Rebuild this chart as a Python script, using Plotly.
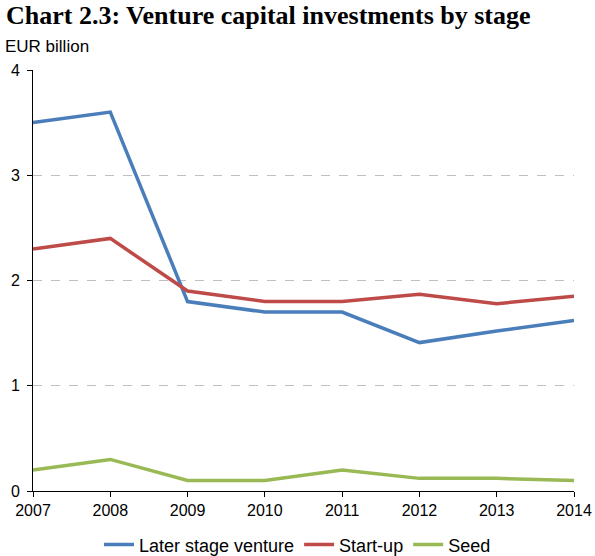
import plotly.graph_objects as go

years = [2007, 2008, 2009, 2010, 2011, 2012, 2013, 2014]
later_stage = [3.50, 3.60, 1.80, 1.70, 1.70, 1.41, 1.52, 1.62]
start_up = [2.30, 2.40, 1.90, 1.80, 1.80, 1.87, 1.78, 1.85]
seed = [0.20, 0.30, 0.10, 0.10, 0.20, 0.12, 0.12, 0.10]
series_names = ["Later stage venture", "Start-up", "Seed"]
colors = ["#4A7EBB", "#BE4B48", "#98B954"]
y_ticks = [0, 1, 2, 3, 4]

fig = go.Figure()
for name, vals, col in zip(series_names, [later_stage, start_up, seed], colors):
    fig.add_trace(go.Scatter(x=years, y=vals, mode="lines", name=name,
                             line=dict(color=col, width=3.5)))

PW, PH = 541, 421
fig.update_layout(
    width=595, height=556,
    margin=dict(l=33, r=21, t=70, b=65, autoexpand=False),
    paper_bgcolor="white", plot_bgcolor="white",
    font=dict(family="Liberation Sans, Arial, sans-serif", size=16, color="black"),
    showlegend=True,
    legend=dict(orientation="h", x=0.5, xanchor="center", xref="container",
                y=0.02, yanchor="middle", yref="container",
                font=dict(size=18), tracegroupgap=0),
)
fig.add_annotation(text="<b>Chart 2.3: Venture capital investments by stage</b>",
                   xref="paper", yref="paper", x=-29/PW, y=1 + 55/PH,
                   xanchor="left", yanchor="middle", showarrow=False,
                   font=dict(family="Liberation Serif, Times New Roman, serif", size=26, color="black"))
fig.add_annotation(text="EUR billion", xref="paper", yref="paper", x=-30/PW, y=1 + 24/PH,
                   xanchor="left", yanchor="middle", showarrow=False,
                   font=dict(size=17, color="black"))

fig.update_xaxes(range=[2007, 2014], tickvals=years, ticktext=[str(y) for y in years],
                 showgrid=False, showline=True, linecolor="black", linewidth=1,
                 ticks="outside", ticklen=5, tickcolor="black", zeroline=False,
                 automargin=False)
fig.update_yaxes(range=[0, 4], tickvals=y_ticks, showgrid=True, gridcolor="#BFBFBF",
                 griddash="dash", gridwidth=1, showline=True, linecolor="black", linewidth=1,
                 ticks="outside", ticklen=5, tickcolor="black", zeroline=False,
                 automargin=False, ticklabelstandoff=4)

fig.write_html("out.html", config={"displayModeBar": False},
               post_script="document.body.style.margin='0';")
